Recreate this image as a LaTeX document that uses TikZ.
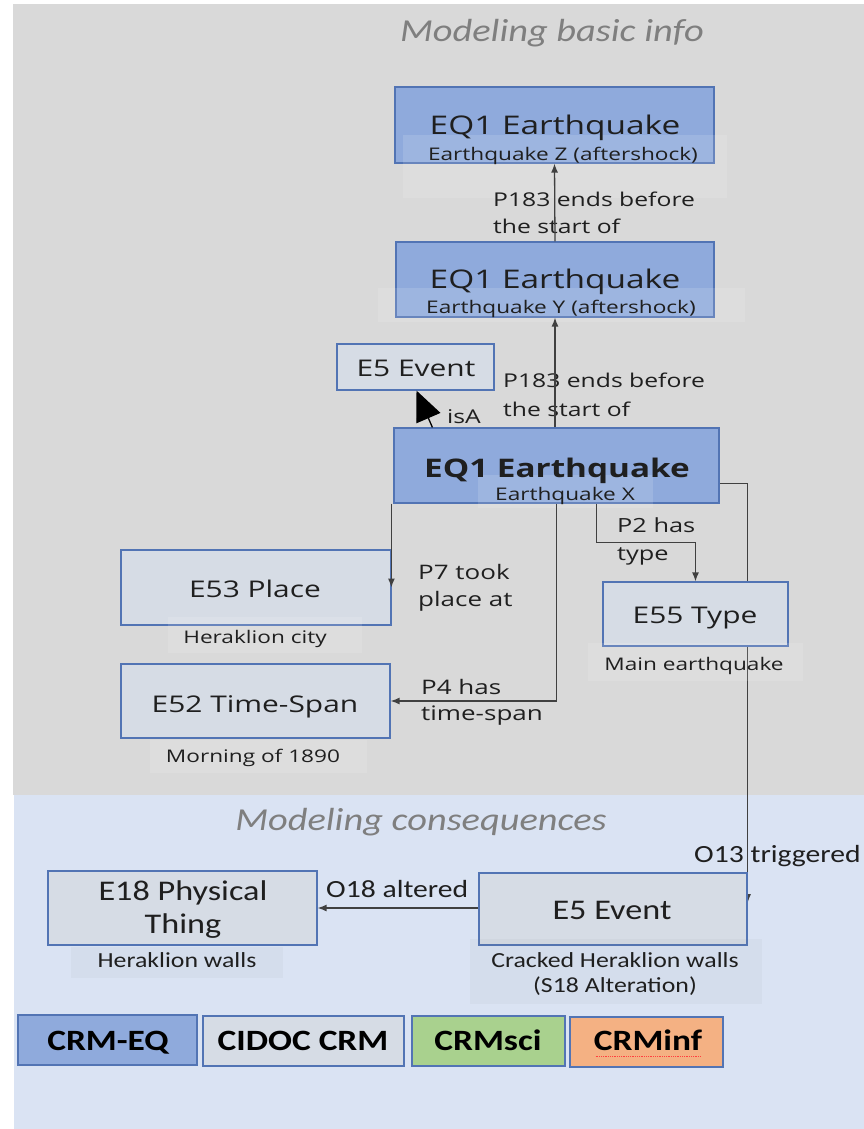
\documentclass[tikz,border=0pt]{standalone}
\usepackage{fontspec}
\newfontfamily\osf{Open Sans}[FakeStretch=1.3]
\newfontfamily\cbf{Carlito}[FakeStretch=1.2]
\usetikzlibrary{arrows.meta,calc,fit}
\definecolor{bggray}{HTML}{D9D9D9}
\definecolor{bgblue}{HTML}{DAE3F3}
\definecolor{eqblue}{HTML}{8FAADC}
\definecolor{crmgray}{HTML}{D6DCE5}
\definecolor{edgeblue}{HTML}{5274B4}
\definecolor{scigreen}{HTML}{A9D18E}
\definecolor{inforange}{HTML}{F4B183}
\definecolor{linegray}{HTML}{404040}
\definecolor{titlegray}{HTML}{7F7F7F}
\pgfdeclarelayer{back}
\pgfdeclarelayer{wires}
\pgfsetlayers{back,wires,main}
\begin{document}
\begin{tikzpicture}[x=1pt,y=-1pt,
  eqbox/.style={draw=edgeblue,fill=eqblue,line width=1.2pt,inner sep=0pt},
  crmbox/.style={draw=edgeblue,fill=crmgray,line width=1.2pt,inner sep=0pt},
  band/.style={fill=white,fill opacity=0.13,draw=none,inner sep=0pt},
  bandb/.style={fill=gray,fill opacity=0.06,draw=none,inner sep=0pt},
  txt/.style={inner sep=0pt,anchor=base,text=black!88},
  ttl/.style={txt,font=\osf\fontsize{23}{28}\selectfont},
  eqttl/.style={txt,font=\osf\fontsize{25.7}{30}\selectfont},
  subt/.style={txt,font=\osf\fontsize{17.4}{22}\selectfont},
  elab/.style={inner sep=0pt,anchor=base west,align=left,text=black!88},
  cttl/.style={txt,font=\cbf\fontsize{28.5}{33}\selectfont,align=center},
  csub/.style={txt,font=\cbf\fontsize{21.5}{25}\selectfont,align=center},
  clab/.style={inner sep=0pt,anchor=base west,text=black!88,font=\cbf\fontsize{24.7}{30}\selectfont},
  sect/.style={inner sep=0pt,anchor=base,text=titlegray,font=\cbf\itshape\fontsize{32}{38}\selectfont},
  legbox/.style={draw=edgeblue,line width=1.2pt,inner sep=0pt},
  legtxt/.style={txt,text=black,font=\cbf\bfseries\fontsize{29.5}{34}\selectfont},
  wire/.style={draw=linegray,line width=1.3pt,-{Latex[length=9pt,width=7pt]}},
]
\useasboundingbox (0,0) rectangle (864,1129);

% section backgrounds
\begin{pgfonlayer}{back}
  \fill[white] (0,0) rectangle (864,1129);
  \fill[bggray] (13,4) rectangle (864,795);
  \fill[bgblue] (14,795) rectangle (864,1129);
\end{pgfonlayer}

\node[sect] (secA) at (552,42) {Modeling basic info};
\node[sect] (secB) at (421,830) {Modeling consequences};

% earthquake Z
\node[eqbox,fit={(395,87)(714,163)}] (z) {};
\node[band,fit={(403,135)(727,198)}] (zb) {};
\node[eqttl] (zt) at (555,135) {EQ1 Earthquake};
\node[subt] (zs) at (563,160) {Earthquake Z (aftershock)};

% earthquake Y
\node[eqbox,fit={(396,242)(714,317)}] (y) {};
\node[band,fit={(378,288)(745,322)}] (yb) {};
\node[eqttl] (yt) at (555,288) {EQ1 Earthquake};
\node[subt] (ys) at (561,313) {Earthquake Y (aftershock)};

% generic event
\node[crmbox,fit={(337,344)(494,390)}] (e5t) {};
\node[ttl] (e5tt) at (416,376) {E5 Event};

% earthquake X
\node[eqbox,fit={(394,428)(719,503)}] (x) {};
\node[band,fit={(478,475)(653,508)}] (xb) {};
\node[txt,font=\osf\bfseries\fontsize{25.6}{30}\selectfont] (xt) at (557,477) {EQ1 Earthquake};
\node[subt] (xs) at (565,500) {Earthquake X};

% place, time-span, type
\node[crmbox,fit={(121,550)(391,625)}] (e53) {};
\node[band,fit={(168,617)(362,653)}] (e53b) {};
\node[ttl] (e53t) at (255,597) {E53 Place};
\node[subt] (e53s) at (255,643) {Heraklion city};

\node[crmbox,fit={(121,664)(390,738)}] (e52) {};
\node[band,fit={(150,740)(367,773)}] (e52b) {};
\node[ttl] (e52t) at (255,712) {E52 Time-Span};
\node[subt] (e52s) at (253,762) {Morning of 1890};

\node[crmbox,fit={(603,582)(788,646)}] (e55) {};
\node[band,fit={(588,643)(803,681)}] (e55b) {};
\node[ttl] (e55t) at (695,623) {E55 Type};
\node[subt] (e55s) at (694,670) {Main earthquake};

% consequences (two-line texts are placed by their last baseline)
\node[crmbox,fit={(479,873)(747,945)}] (e5b) {};
\node[bandb,fit={(470,939)(762,1004)}] (e5bb) {};
\node[cttl] (e5bt) at (612,919) {E5 Event};
\node[csub] (e5bs) at (615,992) {Cracked Heraklion walls\\(S18 Alteration)};

\node[crmbox,fit={(48,871)(317,945)}] (e18) {};
\node[bandb,fit={(71,947)(283,978)}] (e18b) {};
\node[cttl] (e18t) at (183,933) {E18 Physical\\Thing};
\node[csub] (e18s) at (177,967) {Heraklion walls};

% property labels
\node[elab,font=\osf\fontsize{19}{27}\selectfont] (l183a) at (493,233) {P183 ends before\\the start of};
\node[elab,font=\osf\fontsize{19}{29}\selectfont] (l183b) at (503,416) {P183 ends before\\the start of};
\node[elab,font=\osf\fontsize{19}{27}\selectfont] (lisa) at (447,423) {isA};
\node[elab,font=\osf\fontsize{20}{27}\selectfont] (lp7) at (418,606) {P7 took\\place at};
\node[elab,font=\osf\fontsize{20}{26}\selectfont] (lp4) at (421,720) {P4 has\\time-span};
\node[elab,font=\osf\fontsize{19.5}{28}\selectfont] (lp2) at (617,560) {P2 has\\type};
\node[clab] (lo18) at (326,897) {O18 altered};
\node[clab] (lo13) at (694,862) {O13 triggered};

% connectors
\begin{pgfonlayer}{wires}
  \draw[wire] ($(x.east)+(0,18)$) -| ($(e5b.east)+(0,-6)$);
\end{pgfonlayer}
\draw[wire] (y.north) -- (z.south);
\draw[wire] (x.north -| y.north) -- (y.south);
\draw[line width=1.3pt,-{Triangle[length=30pt,width=26pt]}] ($(x.north west)+(39,0)$) -- ($(e5t.south)+(1,0)$);
\draw[wire] ([xshift=-2pt]x.south west) -- ([xshift=-2pt]x.south west |- e53.east);
\draw[wire] (x.south) |- (e52.east);
\draw[wire] ($(x.south)+(40,0)$) -- ++(0,39) -| (e55.north);
\draw[wire] (e5b.west |- 0,908) -- (e18.east |- 0,908);

% legend
\node[legbox,fill=eqblue,fit={(18,1015)(197,1065)}] (kq) {};
\node[legtxt] (kqt) at (108,1050) {CRM-EQ};
\node[legbox,fill=crmgray,fit={(203,1016)(404,1066)}] (kc) {};
\node[legtxt] (kct) at (303,1050) {CIDOC CRM};
\node[legbox,fill=scigreen,fit={(412,1016)(565,1066)}] (ks) {};
\node[legtxt] (kst) at (488,1050) {CRMsci};
\node[legbox,fill=inforange,fit={(570,1017)(723,1067)}] (ki) {};
\node[legtxt] (kit) at (648,1050) {CRMinf};
\draw[red!75,densely dotted,line width=0.8pt] ($(kit.base west)+(2,6)$) -- ($(kit.base east)+(-2,6)$);
\end{tikzpicture}
\end{document}
